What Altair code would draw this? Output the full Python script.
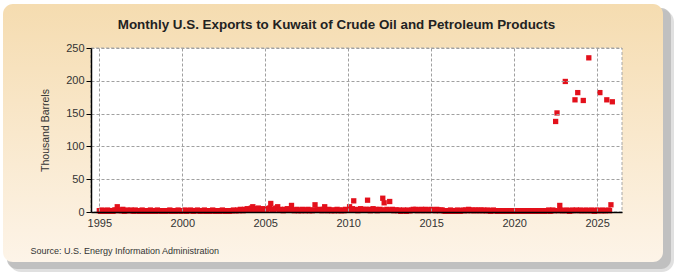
import altair as alt
import pandas as pd

# Monthly values (thousand barrels), Jan..Dec of each year
years = list(range(1995, 2026))
values_by_year = [
    [2, 1, 3, 2, 1, 2, 3, 1, 2, 2, 1, 3],        # 1995
    [3, 8, 2, 3, 2, 4, 1, 2, 3, 2, 2, 3],        # 1996
    [2, 1, 3, 2, 2, 1, 2, 3, 1, 2, 2, 1],        # 1997
    [2, 3, 1, 2, 2, 1, 3, 2, 2, 1, 2, 2],        # 1998
    [1, 2, 2, 3, 1, 2, 2, 1, 2, 3, 2, 1],        # 1999
    [2, 2, 3, 1, 2, 2, 3, 2, 1, 2, 2, 3],        # 2000
    [2, 1, 2, 2, 3, 1, 2, 2, 1, 2, 3, 2],        # 2001
    [1, 2, 2, 1, 2, 3, 2, 1, 2, 2, 1, 2],        # 2002
    [2, 3, 2, 2, 3, 2, 4, 3, 2, 4, 3, 5],        # 2003
    [3, 4, 6, 8, 4, 3, 5, 6, 3, 4, 5, 4],        # 2004
    [4, 3, 5, 6, 13, 4, 3, 5, 6, 8, 3, 4],       # 2005
    [3, 2, 4, 3, 5, 3, 4, 10, 3, 2, 3, 4],       # 2006
    [2, 3, 2, 4, 3, 2, 3, 4, 2, 3, 2, 3],        # 2007
    [11, 3, 3, 4, 3, 2, 4, 8, 3, 2, 4, 3],       # 2008
    [2, 3, 2, 3, 4, 2, 3, 2, 3, 2, 4, 3],        # 2009
    [3, 8, 3, 5, 17, 3, 4, 2, 3, 5, 3, 4],       # 2010
    [3, 4, 18, 4, 2, 3, 5, 3, 4, 2, 3, 4],       # 2011
    [3, 21, 14, 3, 4, 3, 16, 3, 4, 2, 3, 3],     # 2012
    [2, 3, 1, 2, 3, 2, 1, 3, 2, 2, 3, 4],        # 2013
    [3, 4, 2, 3, 3, 4, 2, 3, 4, 3, 2, 3],        # 2014
    [4, 3, 3, 2, 4, 3, 2, 3, 3, 2, 1, 2],        # 2015
    [1, 2, 3, 1, 2, 2, 1, 3, 2, 1, 2, 3],        # 2016
    [2, 3, 2, 4, 3, 2, 3, 2, 3, 2, 3, 2],        # 2017
    [3, 2, 3, 2, 2, 3, 2, 1, 2, 3, 2, 2],        # 2018
    [1, 2, 2, 1, 2, 1, 2, 2, 1, 2, 2, 1],        # 2019
    [2, 1, 2, 2, 1, 2, 1, 2, 2, 1, 2, 2],        # 2020
    [1, 2, 1, 2, 2, 1, 2, 1, 2, 2, 1, 2],        # 2021
    [2, 3, 1, 2, 3, 2, 138, 151, 2, 10, 3, 2],   # 2022
    [2, 199, 3, 2, 1, 2, 3, 2, 171, 3, 182, 2],  # 2023
    [3, 2, 170, 2, 3, 2, 235, 2, 3, 2, 1, 2],    # 2024
    [3, 2, 182, 2, 3, 2, 2, 171, 3, 2, 11, 168], # 2025
]

x_ticks = [1995, 2000, 2005, 2010, 2015, 2020, 2025]
y_ticks = [0, 50, 100, 150, 200, 250]
title_text = "Monthly U.S. Exports to Kuwait of Crude Oil and Petroleum Products"
y_title = "Thousand Barrels"
source_text = "Source: U.S. Energy Information Administration"

rows = []
for y, vals in zip(years, values_by_year):
    for m, v in enumerate(vals):
        rows.append({"t": y + m / 12.0, "v": v})
df = pd.DataFrame(rows)

W, H = 531, 164
one = alt.Data(values=[{}])

shadow = alt.Chart(one).mark_rect(
    fill="#b8b8b8", cornerRadius=10, opacity=0.8
).encode(x=alt.value(-84), x2=alt.value(580), y=alt.value(-40), y2=alt.value(221))

shadow2 = alt.Chart(one).mark_rect(
    fill="#d8d8d8", cornerRadius=12, opacity=0.8
).encode(x=alt.value(-82), x2=alt.value(583), y=alt.value(-38), y2=alt.value(224))

grad = alt.LinearGradient(
    gradient="linear",
    stops=[alt.GradientStop(offset=0, color="#f5dcb0"),
           alt.GradientStop(offset=1, color="#fdf4e8")],
    x1=0, x2=0, y1=0, y2=1,
)
panel = alt.Chart(one).mark_rect(fill=grad, cornerRadius=10).encode(
    x=alt.value(-88), x2=alt.value(572), y=alt.value(-44), y2=alt.value(214)
)

plotbg = alt.Chart(one).mark_rect(
    fill="white", stroke="#a8a8a8", strokeDash=[3, 2], strokeWidth=1
).encode(x=alt.value(0), x2=alt.value(W), y=alt.value(0), y2=alt.value(H))

points = alt.Chart(df).mark_square(size=28, color="#e3101b", opacity=1).encode(
    x=alt.X(
        "t:Q",
        scale=alt.Scale(domain=[1994.5, 2026.5], nice=False, zero=False),
        axis=alt.Axis(
            values=x_ticks, format="d", title=source_text, zindex=2,
            titleAnchor="start", titleX=-61, titleY=34, titleAlign="left",
            titleFont="Liberation Sans", titleFontSize=9, titleFontWeight="normal",
            titleColor="#333333",
            ticks=False, labelPadding=5, labelFontSize=11,
            labelFont="Liberation Sans", labelColor="#333333",
            grid=True, gridColor="#a0a0a0", gridDash=[3, 2],
            domainColor="#000000", domainWidth=1.5,
            labelFlush=False,
        ),
    ),
    y=alt.Y(
        "v:Q",
        scale=alt.Scale(domain=[0, 250], nice=False),
        axis=alt.Axis(
            values=y_ticks, title=y_title, titleFontSize=10.5, zindex=2,
            titleFontWeight="normal", titleColor="#333333",
            titleFont="Liberation Sans", titlePadding=15,
            ticks=True, tickSize=5, tickColor="#000000",
            labelPadding=2, labelFontSize=11,
            labelFont="Liberation Sans", labelColor="#333333",
            grid=True, gridColor="#a0a0a0", gridDash=[3, 2],
            domainColor="#000000", domainWidth=1.5,
        ),
    ),
)

chart = alt.layer(shadow2, shadow, panel, plotbg, points).properties(
    width=W, height=H,
    title=alt.TitleParams(
        title_text, fontSize=13.4, fontWeight="bold",
        font="Liberation Sans Narrow, Arial Narrow, Liberation Sans",
        color="#222222", anchor="middle", dx=-20, dy=41, offset=14,
    ),
    autosize=alt.AutoSizeParams(type="none"),
    padding={"left": 91, "top": 48, "right": 53, "bottom": 63},
).configure_view(stroke=None).configure(background="white")

chart.save("out.html", embed_options={"renderer": "svg", "actions": False})
